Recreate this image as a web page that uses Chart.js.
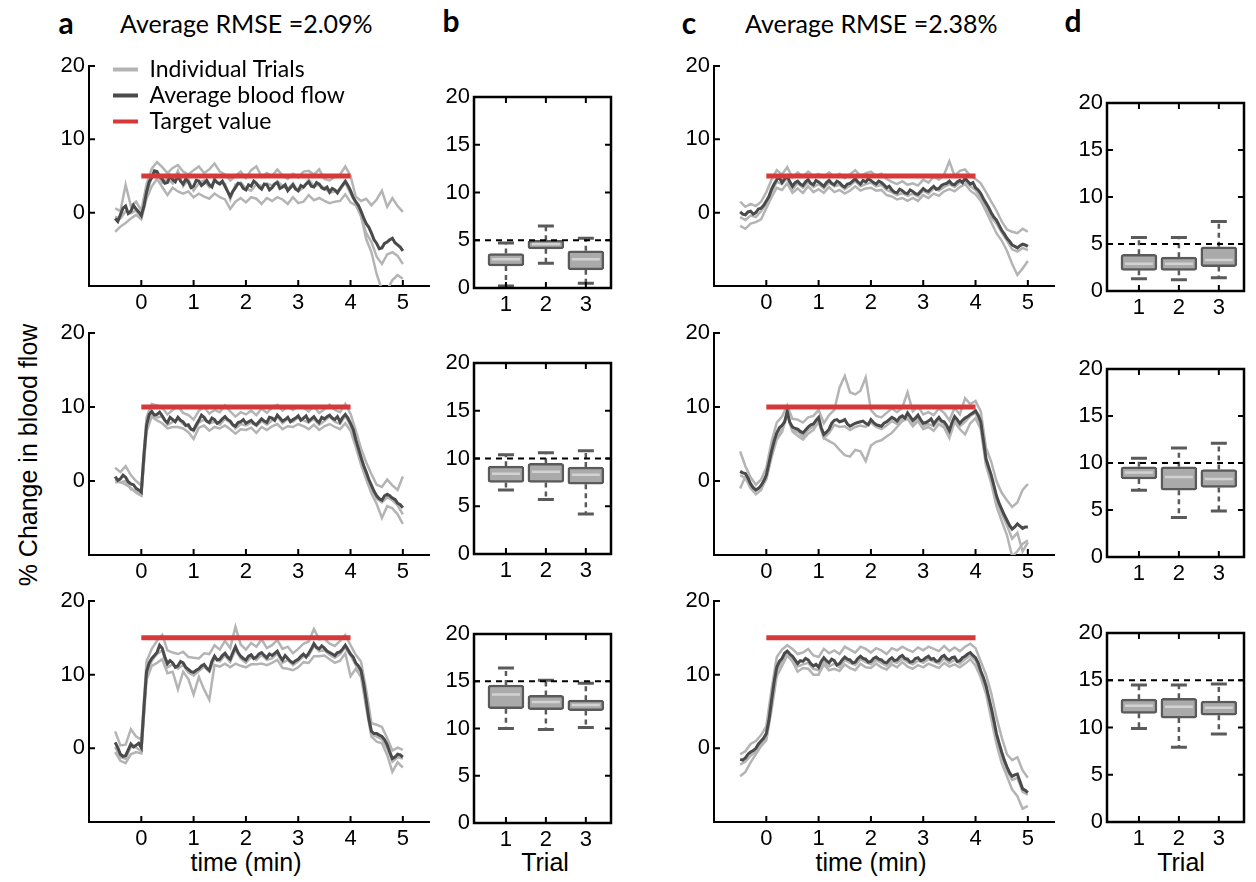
<!DOCTYPE html>
<html>
<head>
<meta charset="utf-8">
<script src="https://cdn.jsdelivr.net/npm/chart.js@4.4.0/dist/chart.umd.min.js"></script>
<style>
html, body { margin: 0; padding: 0; background: #fff; }
#fig { position: relative; width: 1256px; height: 882px; overflow: hidden; background: #fff; }
#fig canvas { position: absolute; }
.t { position: absolute; white-space: nowrap; color: #000; line-height: 1; }
.c { transform: translate(-50%, -50%); }
.l { transform: translateY(-50%); }
</style>
</head>
<body>
<div id="fig">
  <div class="t c" style="left:66px;top:22px;font:bold 30px Lato;">a</div>
  <div class="t l" style="left:120px;top:23px;font:25px Lato;">Average RMSE =2.09%</div>
  <div class="t c" style="left:451px;top:20px;font:bold 30px Lato;">b</div>
  <div class="t c" style="left:689px;top:22px;font:bold 30px Lato;">c</div>
  <div class="t l" style="left:745px;top:23px;font:25px Lato;">Average RMSE =2.38%</div>
  <div class="t c" style="left:1073px;top:20px;font:bold 30px Lato;">d</div>
  <div class="t c" style="left:28px;top:455px;font:25px 'Liberation Sans';transform:translate(-50%,-50%) rotate(-90deg);">% Change in blood flow</div>
  <div class="t c" style="left:246px;top:862px;font:25px 'Liberation Sans';">time (min)</div>
  <div class="t c" style="left:871px;top:862px;font:25px 'Liberation Sans';">time (min)</div>
  <div class="t c" style="left:545px;top:862px;font:25px 'Liberation Sans';">Trial</div>
  <div class="t c" style="left:1181px;top:862px;font:25px 'Liberation Sans';">Trial</div>
</div>
<script>
// Sample times (min) of the individual trial traces
const times = [-0.5,-0.4,-0.3,-0.2,-0.1,0,0.1,0.2,0.3,0.4,0.5,0.6,0.7,0.8,0.9,1,1.1,1.2,1.3,1.4,1.5,1.6,1.7,1.8,1.9,2,
  2.1,2.2,2.3,2.4,2.5,2.6,2.7,2.8,2.9,3,3.1,3.2,3.3,3.4,3.5,3.6,3.7,3.8,3.9,4,4.1,4.2,4.3,4.4,4.5,4.6,4.7,4.8,4.9,5];

// Sample times (min) of the averaged traces
const timesFine = [-0.5,-0.45,-0.4,-0.35,-0.3,-0.25,-0.2,-0.15,-0.1,-0.05,0,0.05,
  0.1,0.15,0.2,0.25,0.3,0.35,0.4,0.45,0.5,0.55,0.6,0.65,0.7,0.75,0.8,0.85,0.9,0.95,1,1.05,
  1.1,1.15,1.2,1.25,1.3,1.35,1.4,1.45,1.5,1.55,1.6,1.65,1.7,1.75,1.8,1.85,1.9,1.95,2,2.05,
  2.1,2.15,2.2,2.25,2.3,2.35,2.4,2.45,2.5,2.55,2.6,2.65,2.7,2.75,2.8,2.85,2.9,2.95,3,3.05,
  3.1,3.15,3.2,3.25,3.3,3.35,3.4,3.45,3.5,3.55,3.6,3.65,3.7,3.75,3.8,3.85,3.9,3.95,4,4.05,
  4.1,4.15,4.2,4.25,4.3,4.35,4.4,4.45,4.5,4.55,4.6,4.65,4.7,4.75,4.8,4.85,4.9,4.95,5];

// Target levels (% change) and the window they are held over (min)
const targets = [5, 10, 15];
const targetWindow = [0, 4];

// Column a, target 5 %
const a5Avg = [-0.8,-1.2,-0.3,0.6,0.9,-0.1,0.2,1.0,0.5,0.1,-0.4,0.9,
  2.8,4.2,4.8,5.7,5.6,4.9,4.6,4.0,4.1,5.0,4.5,4.2,5.0,4.3,3.9,4.6,4.2,3.4,3.6,4.4,
  4.3,3.7,4.0,4.4,3.8,3.5,4.5,4.1,3.9,4.3,3.6,2.9,2.2,2.9,3.4,4.0,3.9,3.3,3.1,3.8,
  3.6,4.3,4.0,3.5,3.2,3.9,3.8,3.1,3.4,3.9,4.1,3.3,3.5,3.8,3.0,3.4,3.8,3.2,3.0,3.7,
  3.5,3.9,4.2,3.6,3.5,4.1,3.9,3.4,3.2,3.5,2.8,3.3,3.1,2.7,3.3,3.8,4.3,3.7,3.0,2.1,
  1.5,1.0,0.2,-0.7,-1.5,-2.0,-2.8,-3.7,-4.2,-4.9,-4.8,-4.2,-4.0,-3.7,-3.5,-4.1,-4.4,-4.7,-5.2];
const a5T1 = [0.6,0.2,3.8,0.9,1.5,0.3, 3.9,6.0,6.9,6.2,5.4,6.1,6.5,5.6,5.2,5.8, 6.3,5.4,5.9,6.7,5.6,5.2,4.4,5.0,5.6,4.7,
  5.8,6.3,4.9,5.4,5.0,5.9,5.1,4.6,5.3,4.8, 5.6,5.7,5.2,5.9,4.6,4.4,4.9,5.2,6.3,5.0, 2.2,1.6,1.9,1.0,1.8,3.0,0.8,2.0,0.9,0.1];
const a5T2 = [-0.6,-0.8,0.2,-0.1,0.3,-0.6, 2.5,4.9,5.4,4.1,4.6,4.0,5.7,3.6,4.5,3.0, 4.0,4.4,3.5,4.3,4.1,3.9,1.8,3.8,4.1,3.3,
  3.0,3.9,3.6,4.0,3.7,4.3,3.6,3.2,4.0,2.9, 3.4,4.5,3.6,3.8,3.4,2.7,2.9,3.1,4.1,2.6, 1.3,-0.5,-2.8,-4.0,-6.0,-7.0,-5.7,-5.4,-5.9,-7.0];
const a5T3 = [-2.6,-1.9,-1.4,-0.8,-0.3,-0.9, 1.9,3.6,4.6,3.5,2.4,3.4,2.9,2.6,2.9,2.1, 2.6,2.2,1.9,2.6,2.1,1.8,0.5,1.5,2.0,1.4,
  2.1,1.9,1.2,2.0,1.6,2.1,1.8,1.2,2.1,1.3, 1.5,2.4,1.7,2.0,1.6,1.3,1.5,1.6,2.5,1.4, 1.0,-0.4,-3.6,-5.4,-8.4,-10.5,-10.5,-9.2,-8.5,-9.0];

// Column a, target 10 %
const a10Avg = [0.6,0.1,0.3,0.8,0.5,-0.1,-0.4,-0.5,-1.0,-1.2,-1.5,3.5,
  7.5,9.0,9.4,8.9,9.0,9.3,8.8,8.2,7.9,8.6,8.3,8.0,8.6,8.2,8.0,7.5,7.6,7.0,6.9,7.6,
  8.2,8.9,8.6,8.1,7.9,8.5,8.3,7.8,8.0,8.4,8.7,8.3,8.1,7.6,7.4,7.9,8.0,8.3,7.8,8.0,
  8.2,7.8,7.6,8.0,8.4,8.1,7.9,8.6,8.5,8.2,8.9,8.5,8.1,8.3,8.6,8.0,8.3,8.5,8.8,8.2,
  8.5,8.8,8.1,8.4,8.7,8.2,7.9,8.6,8.4,8.7,8.9,8.5,8.3,8.7,8.0,8.6,9.0,8.5,7.8,7.0,
  5.6,4.4,3.2,2.1,1.2,0.2,-0.6,-1.4,-2.0,-2.4,-2.6,-2.0,-1.8,-2.0,-2.3,-2.5,-3.0,-3.2,-3.6];
const a10T1 = [1.8,1.2,2.0,0.8,0.0,-0.6, 8.6,10.4,10.2,9.9,9.0,9.6,10.1,9.2,8.9,8.3, 9.5,10.0,9.1,9.6,9.3,10.2,9.4,8.7,9.3,9.0,
  9.5,8.9,9.8,9.2,9.9,10.3,9.5,10.0,9.6,10.1, 9.9,9.4,10.1,9.2,9.7,10.3,9.6,9.3,10.4,9.1, 6.8,4.4,2.5,0.9,-0.5,-0.8,0.2,-0.6,-1.2,0.6];
const a10T2 = [0.2,-0.2,0.0,-1.1,-1.4,-1.9, 7.2,9.1,8.6,8.7,7.6,8.0,8.4,7.7,7.3,6.7, 7.9,8.3,7.8,8.0,7.6,8.4,7.9,7.1,7.7,7.5,
  7.9,7.4,8.1,7.6,8.2,8.7,7.8,8.4,8.0,8.6, 8.2,7.9,8.4,7.6,8.1,8.7,8.0,7.7,8.8,7.5, 5.4,3.0,0.9,-1.0,-2.4,-2.9,-2.2,-2.6,-3.3,-4.5];
const a10T3 = [-0.2,-0.1,-0.5,-0.9,-1.6,-2.0, 6.7,8.7,8.2,7.8,7.1,7.3,7.3,7.1,6.6,5.7, 7.2,7.5,6.8,7.3,7.1,7.5,7.0,6.4,7.0,6.9,
  7.2,6.5,7.3,6.9,7.4,7.7,7.0,7.4,7.3,7.7, 7.4,7.0,7.6,6.9,7.4,7.7,7.3,7.0,7.8,6.8, 4.6,2.2,0.2,-1.7,-3.1,-5.0,-3.4,-3.7,-4.5,-5.8];

// Column a, target 15 %
const a15Avg = [0.8,0.1,-0.8,-1.1,-1.0,-0.2,0.6,0.2,0.4,0.7,0.1,5.5,
  10.4,11.6,12.2,12.6,13.0,14.0,13.6,12.4,11.5,11.9,11.6,11.0,11.2,11.8,11.6,11.0,10.7,10.4,10.3,10.6,
  10.8,11.2,11.4,10.9,10.6,11.8,12.5,12.0,12.1,12.6,12.9,12.4,12.1,13.0,13.8,13.0,12.5,12.2,12.0,12.5,
  12.7,12.2,12.4,12.8,13.0,12.6,12.3,12.8,12.6,12.9,13.2,12.5,12.0,12.6,12.2,11.8,11.6,11.9,12.1,12.5,
  12.8,12.4,12.9,13.5,14.2,13.7,13.5,13.9,13.6,13.2,13.0,12.8,12.6,13.0,13.1,13.5,14.0,13.4,12.8,12.4,
  11.6,11.2,10.6,8.8,6.5,4.0,2.3,2.0,2.0,1.8,1.6,1.2,0.5,-0.5,-1.4,-1.2,-0.8,-0.9,-1.2];
const a15T1 = [2.3,0.4,0.5,2.6,1.6,1.2, 11.8,13.5,14.6,15.4,13.3,13.0,12.8,13.1,12.4,12.3, 12.2,12.9,12.8,14.0,13.4,14.6,13.6,16.5,14.1,13.4,
  14.3,13.8,14.8,13.6,14.0,14.7,13.5,13.8,12.9,13.5, 14.2,14.5,16.2,14.8,14.9,14.2,13.9,14.6,15.4,14.0, 12.7,11.8,7.9,3.4,3.2,2.9,1.4,-0.3,0.1,-0.2];
const a15T2 = [0.2,-1.2,-1.4,0.2,0.1,-0.4, 10.1,11.9,12.8,13.3,11.0,11.4,10.8,11.3,10.3,9.9, 10.5,11.1,10.4,12.2,11.8,12.6,11.7,13.4,12.2,11.6,
  12.4,12.0,12.7,12.0,12.2,12.9,11.6,12.0,11.3,11.8, 12.5,12.6,13.9,13.2,13.3,12.7,12.3,12.8,13.7,12.6, 11.3,10.3,6.1,1.9,1.6,1.2,0.0,-1.8,-1.2,-1.4];
const a15T3 = [-0.5,-1.7,-2.0,-0.8,-0.5,-0.7, 9.3,11.2,11.6,12.1,10.2,10.4,8.0,10.4,9.4,7.3, 9.7,8.0,6.6,11.3,11.1,11.5,11.0,11.5,11.2,11.0,
  11.4,11.4,11.5,11.3,11.6,12.0,10.9,10.8,10.6,11.0, 11.7,11.6,12.5,12.5,12.6,12.1,11.6,11.9,12.9,9.8, 10.8,9.7,5.5,1.6,0.9,0.7,-0.9,-3.2,-1.9,-2.6];

// Column c, target 5 %
const c5Avg = [0.1,-0.2,-0.3,0.1,0.2,-0.2,0.0,0.5,0.6,1.0,1.6,2.2,
  3.2,3.9,4.5,4.8,4.1,4.6,5.0,4.2,3.6,4.1,4.3,3.9,3.7,4.2,4.5,4.0,3.8,4.4,4.2,3.9,
  3.6,4.1,4.4,4.0,3.8,4.3,4.1,3.7,3.5,3.9,4.0,4.3,4.6,4.2,3.9,4.4,4.2,4.6,4.4,4.1,
  3.9,4.3,4.1,3.8,3.4,3.6,3.1,2.8,2.7,3.2,3.0,2.7,2.6,3.1,2.9,2.6,2.5,2.9,3.3,3.0,
  2.9,3.3,3.6,3.2,3.3,3.7,3.9,4.0,4.3,3.9,3.8,4.2,4.4,4.1,4.7,4.3,3.9,4.1,3.4,3.1,
  2.6,1.9,1.3,0.7,0.0,-0.6,-1.0,-1.7,-2.4,-2.9,-3.5,-3.9,-4.4,-4.6,-4.8,-4.5,-4.3,-4.4,-4.6];
const c5T1 = [1.5,0.8,1.2,0.9,1.5,2.8, 4.5,5.8,5.2,6.2,4.8,5.5,4.9,5.6,5.0,5.3, 4.8,5.5,4.9,5.3,4.7,5.2,5.8,5.0,5.4,5.6,
  5.0,5.3,4.6,4.2,3.9,4.3,3.8,4.0,3.7,4.5, 4.1,4.9,4.5,5.2,7.0,5.0,5.7,5.9,5.0,4.6, 4.0,2.8,1.5,0.3,-1.2,-2.3,-2.6,-2.8,-2.2,-2.6];
const c5T2 = [-0.6,-1.0,-0.4,-0.6,0.2,1.2, 2.8,4.2,3.9,4.7,3.2,4.0,3.4,4.2,3.5,3.9, 3.3,4.1,3.6,3.8,3.2,3.7,4.3,3.6,3.9,4.1,
  3.6,3.8,3.1,2.8,2.4,2.7,2.3,2.6,2.2,3.0, 2.6,3.3,3.0,3.5,3.9,3.5,4.1,4.4,3.6,3.1, 2.1,0.8,-0.6,-1.5,-2.7,-3.8,-5.0,-5.3,-4.8,-5.1];
const c5T3 = [-1.8,-2.2,-1.5,-1.3,-0.9,0.6, 2.1,3.4,3.1,4.0,2.7,3.3,2.7,3.6,2.8,3.2, 2.7,3.5,2.8,3.1,2.6,3.0,3.6,3.0,3.3,3.4,
  3.0,3.1,2.4,2.2,1.8,2.0,1.6,2.0,1.6,2.4, 2.0,2.6,2.3,2.9,3.2,2.9,3.5,3.9,3.0,2.5, 1.6,0.2,-1.3,-2.8,-3.8,-5.2,-7.0,-8.5,-7.6,-6.6];

// Column c, target 10 %
const c10Avg = [1.3,1.1,1.0,0.4,-0.4,-0.9,-1.2,-1.0,-0.6,0.0,0.8,2.4,
  4.0,5.4,6.5,7.2,7.5,8.0,9.4,7.9,7.3,7.1,7.0,6.7,6.5,6.9,7.3,7.6,7.7,8.2,8.6,7.2,
  6.3,6.6,7.0,7.8,8.2,8.3,8.0,8.1,8.3,7.7,7.4,7.6,7.8,7.9,8.0,8.1,7.8,7.6,8.3,7.9,
  7.6,7.5,7.4,7.8,8.0,8.3,8.6,8.4,8.1,8.6,8.8,8.5,9.2,8.7,8.2,8.5,8.9,8.3,7.8,7.9,
  8.1,8.4,7.7,8.2,8.6,8.1,8.0,7.5,6.8,7.9,8.7,8.3,7.8,8.2,8.5,8.7,9.0,9.2,9.5,8.9,
  8.0,5.5,3.0,1.9,0.8,-0.6,-2.0,-3.0,-3.8,-4.6,-5.3,-6.0,-6.5,-6.2,-5.8,-6.1,-6.4,-6.2,-6.2];
const c10T1 = [4.0,2.0,0.5,-0.5,0.2,1.8, 5.3,7.9,8.7,10.2,8.4,8.3,7.9,8.6,8.8,9.6, 7.8,8.9,9.6,12.6,14.2,12.0,11.7,12.2,14.0,9.6,
  8.8,8.6,9.2,9.8,9.3,9.9,12.0,9.4,10.1,9.0, 9.3,8.9,9.8,9.2,8.2,9.9,9.0,11.2,10.4,10.8, 9.4,4.5,2.6,0.0,-1.6,-2.6,-3.5,-2.9,-1.2,-0.4];
const c10T2 = [0.8,0.4,-1.0,-1.8,-1.2,0.4, 3.5,6.0,7.2,9.0,6.8,6.6,6.0,6.9,7.4,8.2, 5.8,6.5,7.6,7.3,7.4,6.9,7.3,7.5,7.3,7.9,
  7.3,7.0,7.5,8.1,7.7,8.4,8.6,7.8,8.5,7.4, 7.7,7.4,8.3,7.6,6.4,8.2,7.4,8.0,8.8,9.2, 7.6,2.4,0.1,-2.6,-4.4,-6.0,-7.8,-7.0,-9.5,-8.3];
const c10T3 = [-1.0,0.6,-0.7,-1.3,-0.8,0.2, 3.2,5.6,6.6,9.0,6.7,6.1,5.6,6.4,6.9,8.0, 5.8,5.4,5.0,4.2,3.5,3.3,4.2,4.0,2.7,4.8,
  5.3,5.5,6.0,6.5,7.3,8.1,8.4,7.4,8.1,7.0, 7.3,6.8,7.7,7.2,5.8,8.0,7.0,6.3,7.8,8.5, 7.0,2.1,-0.3,-3.4,-5.4,-7.3,-10.2,-9.5,-8.5,-8.0];

// Column c, target 15 %
const c15Avg = [-1.5,-1.6,-1.3,-0.8,-0.5,-0.3,0.0,0.6,1.0,1.4,2.0,3.8,
  6.5,9.0,11.0,11.8,12.2,12.9,13.2,12.8,12.5,12.0,11.5,11.9,11.8,12.2,12.0,11.5,11.2,11.4,11.0,11.8,
  12.3,11.9,11.6,12.1,11.9,11.3,11.5,12.0,12.4,12.1,12.0,11.6,11.7,12.2,12.5,12.2,12.1,11.7,11.8,12.2,
  12.4,12.1,12.0,11.7,11.6,12.0,12.3,11.9,12.0,12.4,12.6,12.2,12.1,11.7,11.8,12.2,12.3,11.9,12.0,12.3,
  12.5,12.1,12.2,11.8,11.9,12.4,12.6,12.2,12.0,12.3,12.4,11.8,11.9,12.3,12.5,12.8,13.0,12.6,12.3,11.6,
  10.5,9.6,8.5,7.0,5.5,3.8,2.0,0.7,-0.5,-1.6,-2.5,-3.3,-3.8,-3.6,-3.5,-4.5,-5.5,-5.7,-6.0];
const c15T1 = [-0.8,-0.4,0.6,1.0,1.8,3.0, 8.0,12.4,13.4,14.0,13.5,12.8,13.0,13.5,12.6,12.4, 13.5,12.9,13.3,12.8,13.8,13.4,13.0,13.8,13.5,13.0,
  13.6,13.3,12.8,13.6,13.3,13.8,13.4,13.1,13.7,13.3, 13.8,13.5,13.2,13.9,13.2,13.7,13.2,13.8,14.2,13.6, 11.8,10.0,7.5,4.2,1.5,-0.8,-1.6,-1.2,-3.0,-4.0];
const c15T2 = [-2.2,-1.8,-1.0,-0.4,0.6,1.6, 6.0,10.6,11.8,12.8,12.0,11.1,11.4,11.6,10.8,10.6, 11.8,11.1,11.5,11.0,12.0,11.6,11.3,12.1,11.7,11.4,
  12.0,11.6,11.2,11.8,11.6,12.2,11.7,11.4,11.9,11.6, 12.1,11.8,11.5,12.2,11.6,12.0,11.5,12.1,12.6,11.9, 10.0,8.0,5.0,1.4,-1.0,-3.0,-4.3,-4.0,-5.9,-6.3];
const c15T3 = [-3.8,-3.2,-1.9,-0.8,0.3,1.1, 5.2,9.8,11.2,12.6,11.8,10.4,10.9,10.8,10.0,10.0, 11.4,10.6,10.8,10.5,11.4,10.9,10.6,11.5,11.0,10.9,
  11.5,11.0,10.7,11.4,11.0,11.7,11.1,10.8,11.3,11.0, 11.5,11.2,10.9,11.6,11.1,11.4,11.0,11.5,12.1,11.2, 9.6,7.4,4.0,0.6,-2.0,-3.8,-5.6,-6.5,-8.2,-7.8];

// Box summaries per trial: [lower whisker, Q1, median, Q3, upper whisker]
const trials = [1, 2, 3];
const b5Boxes  = [[0.2,2.3,3.0,3.6,4.7], [2.6,4.1,4.6,5.0,6.5], [0.5,1.9,3.0,3.9,5.2]];
const b10Boxes = [[6.7,7.5,8.4,9.2,10.4], [5.7,7.5,8.6,9.5,10.6], [4.2,7.3,8.3,9.1,10.8]];
const b15Boxes = [[10.0,12.1,13.6,14.6,16.4], [9.9,12.0,12.8,13.5,15.1], [10.1,11.9,12.5,13.0,14.8]];
const d5Boxes  = [[1.3,2.2,2.9,3.9,5.7], [1.2,2.2,2.9,3.6,5.7], [1.4,2.6,3.3,4.7,7.4]];
const d10Boxes = [[7.1,8.3,9.0,9.6,10.5], [4.2,7.1,8.5,9.6,11.6], [4.9,7.4,8.3,9.3,12.1]];
const d15Boxes = [[9.9,11.5,12.3,13.0,14.5], [7.9,11.0,12.2,13.1,14.5], [9.3,11.3,12.1,12.8,14.6]];

// Tick values
const timeTicks = [0, 1, 2, 3, 4, 5];
const flowTicks = [0, 10, 20];
const boxTicks = [0, 5, 10, 15, 20];

const TICK_FONT = { family: '"Liberation Sans", Arial, sans-serif', size: 22 };
const TRIAL_GREY = '#b4b4b4';
const AVG_GREY = '#4a4a4a';
const TARGET_RED = '#d5393a';
const BOX_EDGE = '#5a5a5a';
const BOX_FILL = '#aaaaaa';
const BOX_MEDIAN = '#d2d2d2';

const fig = document.getElementById('fig');

function addCanvas(left, top, w, h) {
  const cv = document.createElement('canvas');
  cv.width = w; cv.height = h;
  cv.style.left = left + 'px'; cv.style.top = top + 'px';
  cv.style.width = w + 'px'; cv.style.height = h + 'px';
  fig.appendChild(cv);
  return cv;
}

function fixedTicks(values) {
  return function (scale) { scale.ticks = values.map(v => ({ value: v })); };
}

function pts(ts, ys) { return ts.map((t, i) => ({ x: t, y: ys[i] })); }

// Short tick marks pointing into the plot area
const inwardTicks = {
  id: 'inwardTicks',
  afterDatasetsDraw(chart, args, opts) {
    const { ctx, chartArea: a, scales: { x, y } } = chart;
    ctx.save();
    ctx.strokeStyle = '#000';
    ctx.lineWidth = 2;
    ctx.beginPath();
    (opts.xValues || []).forEach(v => {
      const px = x.getPixelForValue(v);
      ctx.moveTo(px, a.bottom); ctx.lineTo(px, a.bottom - 6);
      if (opts.frame) { ctx.moveTo(px, a.top); ctx.lineTo(px, a.top + 6); }
    });
    (opts.yValues || []).forEach(v => {
      const py = y.getPixelForValue(v);
      ctx.moveTo(a.left, py); ctx.lineTo(a.left + 6, py);
      if (opts.frame) { ctx.moveTo(a.right, py); ctx.lineTo(a.right - 6, py); }
    });
    ctx.stroke();
    if (opts.frame) {
      ctx.lineWidth = 2.5;
      ctx.strokeRect(a.left, a.top, a.right - a.left, a.bottom - a.top);
    }
    ctx.restore();
  }
};

// Legend sits a little inside the top-left corner of the first panel
const legendNudge = {
  id: 'legendNudge',
  afterLayout(chart) {
    if (chart.legend && chart.options.plugins.legend.display) {
      chart.legend.left = chart.chartArea.left + 21;
      chart.legend.top = chart.chartArea.top - 11;
    }
  }
};

function linePanel(L, R, T, B, target, avg, t1, t2, t3, withLegend) {
  const yW = 60, padT = 20, padR = 20, xH = 35, padB = 5;
  const w = (R - L) + yW + padR;
  const h = (B - T) + padT + xH + padB;
  const cv = addCanvas(L - yW, T - padT, w, h);
  const trialStyle = { borderColor: TRIAL_GREY, backgroundColor: TRIAL_GREY, borderWidth: 2.5, pointRadius: 0, order: 2 };
  new Chart(cv, {
    type: 'line',
    data: {
      datasets: [
        Object.assign({ label: 'Individual Trials', data: pts(times, t1) }, trialStyle),
        { label: 'Average blood flow', data: pts(timesFine, avg), borderColor: AVG_GREY, backgroundColor: AVG_GREY, borderWidth: 3, pointRadius: 0, order: 1 },
        { label: 'Target value', data: [{ x: targetWindow[0], y: target }, { x: targetWindow[1], y: target }],
          borderColor: TARGET_RED, backgroundColor: TARGET_RED, borderWidth: 5, borderCapStyle: 'butt', pointRadius: 0, order: 0 },
        Object.assign({ label: 'trial 2', data: pts(times, t2) }, trialStyle),
        Object.assign({ label: 'trial 3', data: pts(times, t3) }, trialStyle)
      ]
    },
    options: {
      responsive: false, animation: false, events: [],
      layout: { padding: { left: 0, top: padT, right: padR, bottom: padB } },
      scales: {
        x: {
          type: 'linear', min: -1, max: 5.5,
          afterBuildTicks: fixedTicks(timeTicks),
          afterFit: s => { s.height = xH; },
          grid: { display: false, drawTicks: false },
          border: { display: true, color: '#000', width: 2 },
          ticks: { font: TICK_FONT, color: '#000', padding: 4, maxRotation: 0 }
        },
        y: {
          type: 'linear', min: -10, max: 20,
          afterBuildTicks: fixedTicks(flowTicks),
          afterFit: s => { s.width = yW; },
          grid: { display: false, drawTicks: false },
          border: { display: true, color: '#000', width: 2 },
          ticks: { font: TICK_FONT, color: '#000', padding: 4 }
        }
      },
      plugins: {
        tooltip: { enabled: false },
        inwardTicks: { xValues: timeTicks, yValues: flowTicks, frame: false },
        legend: {
          display: !!withLegend,
          position: 'chartArea', align: 'start',
          labels: {
            boxWidth: 25, boxHeight: 4, padding: 3, color: '#000',
            font: { family: 'Lato', size: 23 },
            filter: item => item.datasetIndex < 3,
            generateLabels: chart => chart.data.datasets.map((ds, i) => ({
              text: ds.label, fillStyle: ds.borderColor, strokeStyle: ds.borderColor,
              lineWidth: 0, hidden: false, datasetIndex: i
            }))
          }
        }
      }
    },
    plugins: [inwardTicks, legendNudge]
  });
}

// Whiskers, caps, medians and the dashed target level of a box panel
function boxParts(boxes, target) {
  return {
    id: 'boxParts',
    beforeDatasetsDraw(chart) {
      const { ctx, scales: { x, y } } = chart;
      ctx.save();
      ctx.strokeStyle = BOX_EDGE;
      boxes.forEach((b, i) => {
        const px = x.getPixelForValue(trials[i]);
        ctx.lineWidth = 2.5;
        ctx.setLineDash([5, 4]);
        ctx.beginPath();
        ctx.moveTo(px, y.getPixelForValue(b[3])); ctx.lineTo(px, y.getPixelForValue(b[4]));
        ctx.moveTo(px, y.getPixelForValue(b[1])); ctx.lineTo(px, y.getPixelForValue(b[0]));
        ctx.stroke();
        ctx.setLineDash([]);
        ctx.lineWidth = 3;
        ctx.beginPath();
        [b[0], b[4]].forEach(v => {
          const py = y.getPixelForValue(v);
          ctx.moveTo(px - 8, py); ctx.lineTo(px + 8, py);
        });
        ctx.stroke();
      });
      ctx.restore();
    },
    afterDatasetsDraw(chart) {
      const { ctx, chartArea: a, scales: { x, y } } = chart;
      ctx.save();
      ctx.strokeStyle = BOX_MEDIAN;
      ctx.lineWidth = 2.5;
      ctx.beginPath();
      boxes.forEach((b, i) => {
        const px = x.getPixelForValue(trials[i]);
        const py = y.getPixelForValue(b[2]);
        ctx.moveTo(px - 14, py); ctx.lineTo(px + 14, py);
      });
      ctx.stroke();
      ctx.strokeStyle = '#000';
      ctx.lineWidth = 2;
      ctx.setLineDash([6, 5]);
      ctx.beginPath();
      const ty = y.getPixelForValue(target);
      ctx.moveTo(a.left, ty); ctx.lineTo(a.right, ty);
      ctx.stroke();
      ctx.restore();
    }
  };
}

function boxPanel(L, R, T, B, target, boxes) {
  const yW = 45, padT = 20, padR = 15, xH = 35, padB = 5;
  const w = (R - L) + yW + padR;
  const h = (B - T) + padT + xH + padB;
  const cv = addCanvas(L - yW, T - padT, w, h);
  new Chart(cv, {
    type: 'bar',
    data: {
      datasets: [{
        label: 'IQR',
        data: boxes.map((b, i) => ({ x: trials[i], y: [b[1], b[3]] })),
        backgroundColor: BOX_FILL, borderColor: BOX_EDGE, borderWidth: 2.5,
        borderRadius: 3, borderSkipped: false, barThickness: 36
      }]
    },
    options: {
      responsive: false, animation: false, events: [],
      layout: { padding: { left: 0, top: padT, right: padR, bottom: padB } },
      scales: {
        x: {
          type: 'linear', min: 0.2, max: 3.63, offset: false,
          afterBuildTicks: fixedTicks(trials),
          afterFit: s => { s.height = xH; },
          grid: { display: false, drawTicks: false },
          border: { display: false },
          ticks: { font: TICK_FONT, color: '#000', padding: 4, maxRotation: 0 }
        },
        y: {
          type: 'linear', min: 0, max: 20,
          afterBuildTicks: fixedTicks(boxTicks),
          afterFit: s => { s.width = yW; },
          grid: { display: false, drawTicks: false },
          border: { display: false },
          ticks: { font: TICK_FONT, color: '#000', padding: 4 }
        }
      },
      plugins: {
        tooltip: { enabled: false },
        legend: { display: false },
        inwardTicks: { xValues: trials, yValues: [5, 10, 15], frame: true }
      }
    },
    plugins: [boxParts(boxes, target), inwardTicks]
  });
}

// Row layout (chart-area pixel bounds)
const lineRows = [[66, 286], [333, 555], [601, 822]];
linePanel(89, 429, lineRows[0][0], lineRows[0][1], targets[0], a5Avg, a5T1, a5T2, a5T3, true);
linePanel(89, 429, lineRows[1][0], lineRows[1][1], targets[1], a10Avg, a10T1, a10T2, a10T3, false);
linePanel(89, 429, lineRows[2][0], lineRows[2][1], targets[2], a15Avg, a15T1, a15T2, a15T3, false);
linePanel(714, 1054, lineRows[0][0], lineRows[0][1], targets[0], c5Avg, c5T1, c5T2, c5T3, false);
linePanel(714, 1054, lineRows[1][0], lineRows[1][1], targets[1], c10Avg, c10T1, c10T2, c10T3, false);
linePanel(714, 1054, lineRows[2][0], lineRows[2][1], targets[2], c15Avg, c15T1, c15T2, c15T3, false);

boxPanel(474, 611, 97, 288, targets[0], b5Boxes);
boxPanel(474, 611, 363, 554, targets[1], b10Boxes);
boxPanel(474, 611, 634, 823, targets[2], b15Boxes);
boxPanel(1107, 1244, 103, 291, targets[0], d5Boxes);
boxPanel(1107, 1244, 369, 557, targets[1], d10Boxes);
boxPanel(1107, 1244, 633, 822, targets[2], d15Boxes);
</script>
</body>
</html>
